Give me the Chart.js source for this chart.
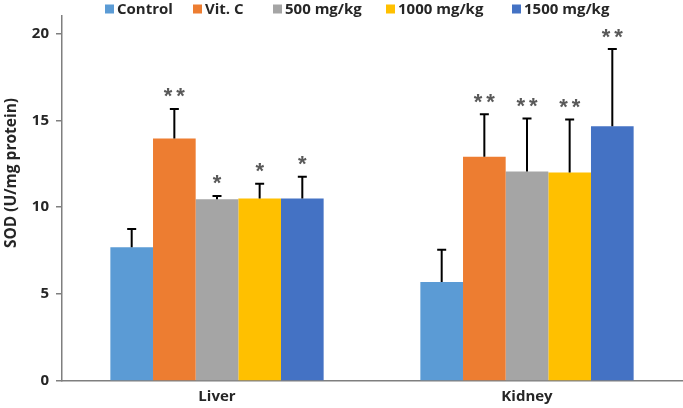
<!DOCTYPE html>
<html>
<head>
<meta charset="utf-8">
<script src="https://cdn.jsdelivr.net/npm/chart.js@4/dist/chart.umd.min.js"></script>
<style>
  html, body { margin: 0; padding: 0; background: #ffffff; }
  #wrap { width: 683px; height: 408px; position: relative; }
</style>
</head>
<body>
<div id="wrap"><canvas id="c"></canvas></div>
<script>
// ---- data ----
const categories = ['Liver', 'Kidney'];
const seriesLabels = ['Control', 'Vit. C', '500 mg/kg', '1000 mg/kg', '1500 mg/kg'];
const seriesColors = ['#5B9BD5', '#ED7D31', '#A5A5A5', '#FFC000', '#4472C4'];

const controlValues = [7.7, 5.7];
const vitCValues = [13.95, 12.9];
const dose500Values = [10.45, 12.05];
const dose1000Values = [10.5, 12.0];
const dose1500Values = [10.5, 14.65];

const controlErrors = [1.05, 1.85];
const vitCErrors = [1.7, 2.45];
const dose500Errors = [0.2, 3.05];
const dose1000Errors = [0.85, 3.05];
const dose1500Errors = [1.25, 4.45];

const controlSig = ['', ''];
const vitCSig = ['**', '**'];
const dose500Sig = ['*', '**'];
const dose1000Sig = ['*', '**'];
const dose1500Sig = ['*', '**'];

const yTitle = 'SOD (U/mg protein)';
const yMin = 0, yMax = 21, yStep = 5;

const allValues = [controlValues, vitCValues, dose500Values, dose1000Values, dose1500Values];
const allErrors = [controlErrors, vitCErrors, dose500Errors, dose1000Errors, dose1500Errors];
const allSig = [controlSig, vitCSig, dose500Sig, dose1000Sig, dose1500Sig];

const FONT = '"Open Sans", Lato, "Liberation Sans", sans-serif';
const TEXT = '#262626';

const datasets = seriesLabels.map((label, i) => ({
  label,
  data: allValues[i],
  errors: allErrors[i],
  sig: allSig[i],
  backgroundColor: seriesColors[i],
  borderWidth: 0,
  barPercentage: 1.0,
  categoryPercentage: 0.688
}));

const extrasPlugin = {
  id: 'extras',
  afterDatasetsDraw(chart) {
    const ctx = chart.ctx;
    const y = chart.scales.y;
    ctx.save();
    chart.data.datasets.forEach((ds, di) => {
      const meta = chart.getDatasetMeta(di);
      meta.data.forEach((bar, i) => {
        const v = ds.data[i], e = ds.errors[i];
        const yTop = y.getPixelForValue(v);
        const yErr = y.getPixelForValue(v + e);
        ctx.strokeStyle = '#000000';
        ctx.lineWidth = 2;
        ctx.beginPath();
        ctx.moveTo(bar.x, yTop);
        ctx.lineTo(bar.x, yErr);
        ctx.moveTo(bar.x - 4.5, yErr);
        ctx.lineTo(bar.x + 4.5, yErr);
        ctx.stroke();
        const s = ds.sig[i];
        if (s) {
          ctx.fillStyle = '#595959';
          ctx.font = 'bold 22px "Liberation Sans", Arial, sans-serif';
          ctx.textAlign = 'center';
          ctx.textBaseline = 'alphabetic';
          const m = ctx.measureText('*');
          const glyphMid = (m.actualBoundingBoxAscent - m.actualBoundingBoxDescent) / 2;
          const centerY = yErr - 16;
          const n = s.length;
          for (let k = 0; k < n; k++) {
            const cx = bar.x + (k - (n - 1) / 2) * 12.5;
            ctx.fillText('*', cx, centerY + glyphMid);
          }
        }
      });
    });
    ctx.restore();
  },
  afterDraw(chart) {
    const ctx = chart.ctx;
    ctx.save();
    // legend
    const legendX = [105, 193, 273, 386, 512];
    ctx.font = 'bold 15px ' + FONT;
    ctx.textBaseline = 'middle';
    ctx.textAlign = 'left';
    chart.data.datasets.forEach((ds, i) => {
      ctx.fillStyle = ds.backgroundColor;
      ctx.fillRect(legendX[i], 4.5, 9, 9);
      ctx.fillStyle = TEXT;
      ctx.fillText(ds.label, legendX[i] + 12, 9.5);
    });
    // y-axis title
    ctx.translate(12, 173);
    ctx.rotate(-Math.PI / 2);
    ctx.textAlign = 'center';
    ctx.textBaseline = 'middle';
    ctx.font = 'bold 15.5px ' + FONT;
    ctx.fillStyle = TEXT;
    ctx.fillText(yTitle, 0, 0);
    ctx.restore();
  }
};

new Chart(document.getElementById('c'), {
  type: 'bar',
  data: { labels: categories, datasets },
  options: {
    responsive: true,
    maintainAspectRatio: false,
    animation: false,
    devicePixelRatio: 1,
    layout: { padding: { top: 11, right: 1, left: 0, bottom: 0 } },
    plugins: {
      legend: { display: false },
      tooltip: { enabled: false }
    },
    scales: {
      x: {
        afterFit(scale) { scale.height = 27; },
        grid: { display: false, drawTicks: false },
        border: { display: true, color: '#7F7F7F', width: 1.5 },
        ticks: {
          color: TEXT,
          font: { family: FONT, size: 15, weight: 'bold' },
          padding: 7
        }
      },
      y: {
        min: yMin,
        max: yMax,
        afterFit(scale) { scale.width = 62; },
        grid: { drawOnChartArea: false, drawTicks: true, tickLength: 6, color: '#7F7F7F', lineWidth: 1.5 },
        border: { display: true, color: '#7F7F7F', width: 1.5 },
        ticks: {
          stepSize: yStep,
          includeBounds: false,
          color: TEXT,
          padding: 7,
          font: { family: FONT, size: 15, weight: 'bold' }
        }
      }
    }
  },
  plugins: [extrasPlugin]
});
</script>
</body>
</html>
